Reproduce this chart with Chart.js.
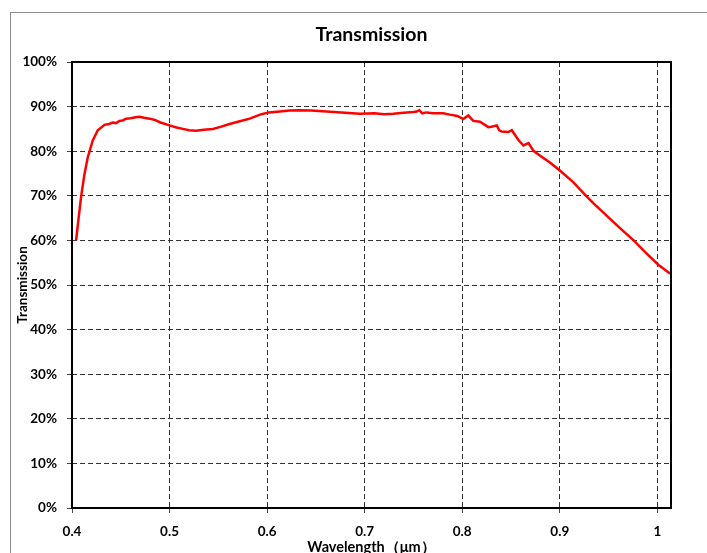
<!DOCTYPE html>
<html>
<head>
<meta charset="utf-8">
<script src="https://cdn.jsdelivr.net/npm/chart.js@4.4.1/dist/chart.umd.min.js"></script>
<style>
  body { margin: 0; background: #fff; }
  #frame { position: absolute; left: 10px; top: 12px; width: 760px; height: 600px; border: 1px solid #8c8c8c; }
  #wrap { position: absolute; left: 0; top: 0; width: 707px; height: 553px; }
</style>
</head>
<body>
<div id="frame"></div>
<div id="wrap"><canvas id="transChart" width="707" height="553"></canvas></div>
<script>
// Longueurs d'onde (µm) et transmission (%)
const wavelength = [
  0.4042, 0.4065, 0.4093, 0.4125, 0.4161, 0.4213, 0.4264, 0.4333, 0.4380, 0.4418,
  0.4450, 0.4487, 0.4520, 0.4555, 0.4600, 0.4650, 0.4692, 0.4740, 0.4795, 0.4850,
  0.4900, 0.5000, 0.5070, 0.5137, 0.5200, 0.5274, 0.5350, 0.5445, 0.5530, 0.5616,
  0.5720, 0.5821, 0.5942, 0.6020, 0.6129, 0.6230, 0.6335, 0.6450, 0.6609, 0.6800,
  0.6950, 0.7100, 0.7200, 0.7293, 0.7400, 0.7500, 0.7533, 0.7560, 0.7590, 0.7636,
  0.7700, 0.7806, 0.7873, 0.7950, 0.8011, 0.8062, 0.8114, 0.8182, 0.8268, 0.8300,
  0.8354, 0.8380, 0.8405, 0.8473, 0.8508, 0.8576, 0.8627, 0.8679, 0.8730, 0.8799,
  0.8902, 0.9004, 0.9140, 0.9260, 0.9346, 0.9483, 0.9620, 0.9757, 0.9894, 1.0013,
  1.0133
];
const transmission = [
  60.0, 64.5, 69.7, 74.5, 78.6, 82.4, 84.7, 85.9, 86.1, 86.4,
  86.3, 86.8, 86.9, 87.3, 87.4, 87.6, 87.7, 87.5, 87.3, 87.0,
  86.5, 85.8, 85.3, 85.0, 84.7, 84.6, 84.8, 85.0, 85.5, 86.1,
  86.7, 87.3, 88.3, 88.7, 88.9, 89.1, 89.2, 89.1, 88.9, 88.6,
  88.4, 88.5, 88.3, 88.4, 88.6, 88.8, 88.9, 89.2, 88.5, 88.7,
  88.5, 88.5, 88.2, 87.9, 87.2, 88.0, 86.8, 86.6, 85.4, 85.5,
  85.8, 84.7, 84.4, 84.3, 84.7, 82.5, 81.3, 81.8, 80.1, 79.0,
  77.4, 75.6, 73.0, 70.2, 68.3, 65.5, 62.7, 60.0, 57.0, 54.5,
  52.5
];
const xTicks = [0.4, 0.5, 0.6, 0.7, 0.8, 0.9, 1];
const yTicks = [0, 10, 20, 30, 40, 50, 60, 70, 80, 90, 100];

const points = wavelength.map((w, i) => ({ x: w, y: transmission[i] }));

const tickFont = { family: 'Lato', size: 13.5, weight: 'bold' };

// cadre noir autour de la zone de tracé
const frameBorder = {
  id: 'frameBorder',
  afterDatasetsDraw(chart) {
    const { ctx, chartArea } = chart;
    ctx.save();
    ctx.strokeStyle = '#000';
    ctx.lineWidth = 2;
    ctx.strokeRect(chartArea.left, chartArea.top, chartArea.right - chartArea.left, chartArea.bottom - chartArea.top);
    ctx.restore();
  }
};

new Chart(document.getElementById('transChart'), {
  type: 'line',
  data: {
    datasets: [{
      data: points,
      borderColor: '#ff0000',
      borderWidth: 2.5,
      pointRadius: 0,
      tension: 0,
      fill: false
    }]
  },
  options: {
    responsive: false,
    animation: false,
    layout: { padding: { left: 0, right: 36, top: 0, bottom: 0 } },
    plugins: {
      legend: { display: false },
      tooltip: { enabled: false },
      title: {
        display: true,
        fullSize: false,
        text: 'Transmission',
        color: '#000',
        font: { family: 'Lato', size: 19.5, weight: 'bold' },
        padding: { top: 23, bottom: 15.6 }
      }
    },
    scales: {
      x: {
        type: 'linear',
        min: 0.4,
        max: 1.014,
        afterBuildTicks: scale => { scale.ticks = xTicks.map(v => ({ value: v })); },
        afterFit: scale => { scale.height = 45; },
        ticks: {
          color: '#000',
          font: tickFont,
          padding: 11,
          maxRotation: 0,
          callback: v => String(v)
        },
        grid: {
          color: '#333',
          lineWidth: 1,
          tickLength: 5,
          tickColor: '#444',
          tickBorderDash: []
        },
        border: { display: false, dash: [5, 3] },
        title: {
          display: true,
          text: 'Wavelength（μm）',
          color: '#000',
          font: { family: 'Lato', size: 14.5, weight: 'bold' },
          padding: { top: 0, bottom: -3 }
        }
      },
      y: {
        min: 0,
        max: 100,
        afterBuildTicks: scale => { scale.ticks = yTicks.map(v => ({ value: v })); },
        afterFit: scale => { scale.width = 72; },
        ticks: {
          color: '#000',
          font: tickFont,
          padding: 10,
          callback: v => v + '%'
        },
        grid: {
          color: '#333',
          lineWidth: 1,
          tickLength: 5,
          tickColor: '#444',
          tickBorderDash: []
        },
        border: { display: false, dash: [5, 3] },
        title: {
          display: true,
          text: 'Transmission',
          color: '#000',
          font: { family: 'Lato', size: 13.5, weight: 'bold' },
          padding: { top: 14.4, bottom: 0 }
        }
      }
    }
  },
  plugins: [frameBorder]
});
</script>
</body>
</html>
